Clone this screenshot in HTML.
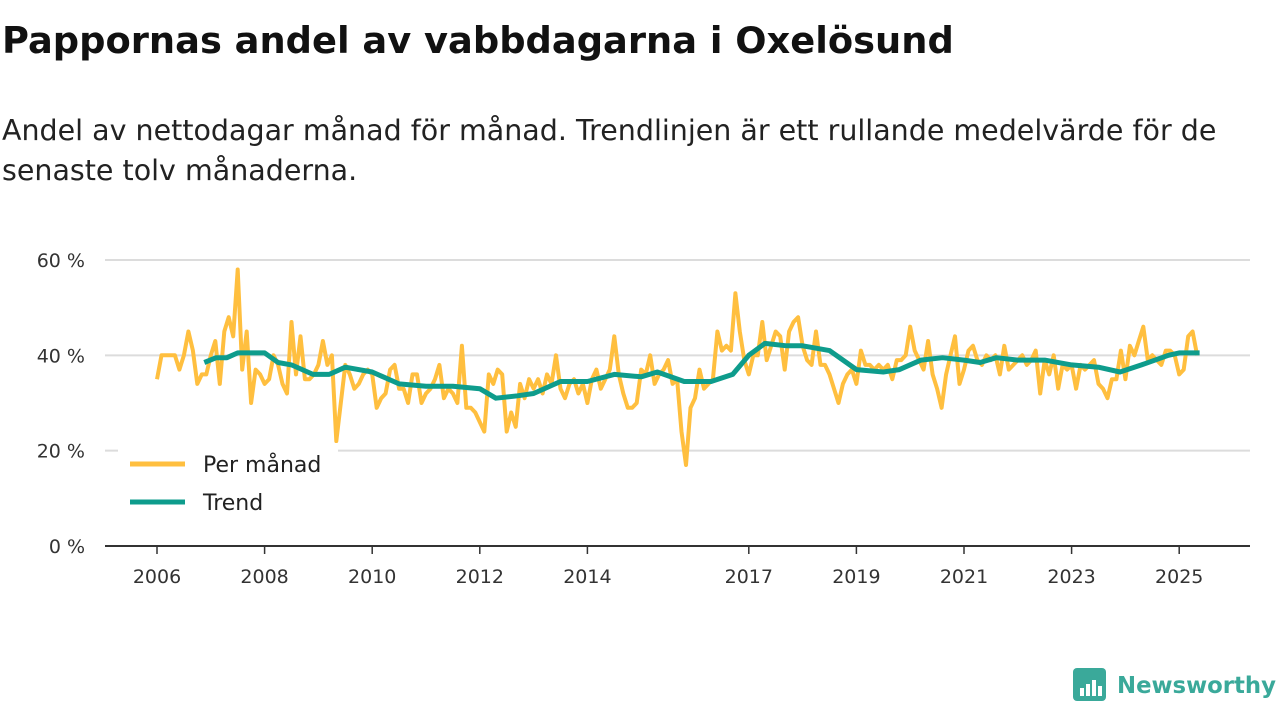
<!DOCTYPE html>
<html><head><meta charset="utf-8"><style>
body{margin:0;background:#fff;font-family:"DejaVu Sans","Liberation Sans",sans-serif;color:#111}
#wrap{position:relative;width:1280px;height:720px;overflow:hidden}
h1{position:absolute;left:2px;top:19px;margin:0;font-size:36.8px;font-weight:bold;white-space:nowrap}
.sub{position:absolute;left:2px;top:111px;margin:0;font-size:28.5px;line-height:40px;color:#222;white-space:nowrap}
</style></head><body><div id="wrap">
<h1>Pappornas andel av vabbdagarna i Oxelösund</h1>
<p class="sub">Andel av nettodagar månad för månad. Trendlinjen är ett rullande medelvärde för de<br>senaste tolv månaderna.</p>
<svg id="chart" width="1280" height="720" style="position:absolute;left:0;top:0;font-family:'DejaVu Sans',sans-serif"></svg>
</div>
<script>
const yTicks=[0,20,40,60];
const xTickYears=[2006,2008,2010,2012,2014,2017,2019,2021,2023,2025];
const monthly=[
35,40,40,40,40,37,40,45,41,34,36,36,
40,43,34,45,48,44,58,37,45,30,37,36,
34,35,40,38,34,32,47,36,44,35,35,36,
38,43,38,40,22,30,38,36,33,34,36,37,
36,29,31,32,37,38,33,33,30,36,36,30,
32,33,35,38,31,33,32,30,42,29,29,28,
26,24,36,34,37,36,24,28,25,34,31,35,
33,35,32,36,34,40,33,31,34,35,32,34,
30,35,37,33,35,37,44,36,32,29,29,30,
37,36,40,34,36,37,39,34,35,24,17,29,
31,37,33,34,35,45,41,42,41,53,45,39,
36,40,40,47,39,42,45,44,37,45,47,48,
42,39,38,45,38,38,36,33,30,34,36,37,
34,41,38,38,37,38,37,38,35,39,39,40,
46,41,39,37,43,36,33,29,36,40,44,34,
37,41,42,39,38,40,39,40,36,42,37,38,
39,40,38,39,41,32,39,36,40,33,38,37,
38,33,38,37,38,39,34,33,31,35,35,41,
35,42,40,43,46,39,40,39,38,41,41,40,
36,37,44,45,40];
const trendDates=[2006.88,2007.1,2007.3,2007.5,2008.0,2008.25,2008.5,2008.9,2009.2,2009.5,2010.0,2010.5,2011.0,2011.5,2012.0,2012.3,2012.7,2013.0,2013.5,2014.0,2014.5,2015.0,2015.3,2015.8,2016.3,2016.7,2017.0,2017.3,2017.7,2018.0,2018.5,2019.0,2019.5,2019.8,2020.2,2020.6,2021.0,2021.3,2021.6,2022.0,2022.5,2023.0,2023.5,2023.9,2024.3,2024.8,2025.0,2025.38];
const trendValues=[38.5,39.5,39.5,40.5,40.5,38.5,38,36,36,37.5,36.5,34,33.5,33.5,33,31,31.5,32,34.5,34.5,36,35.5,36.5,34.5,34.5,36,40,42.5,42,42,41,37,36.5,37,39,39.5,39,38.5,39.5,39,39,38,37.5,36.5,38,40,40.5,40.5];
const NS="http://www.w3.org/2000/svg",svg=document.getElementById('chart');
const x0=157,pxPerYear=53.8,y0=546,pxPerPct=4.767;
function xs(yr){return x0+(yr-2006)*pxPerYear}
function ys(v){return y0-v*pxPerPct}
function mk(t,a){const e=document.createElementNS(NS,t);for(const k in a)e.setAttribute(k,a[k]);svg.appendChild(e);return e}
yTicks.forEach(v=>{
 if(v>0){const g=mk('line',{x1:105,x2:1250,y1:ys(v),y2:ys(v),stroke:'#dcdcdc','stroke-width':2});
 
 }
 const t=mk('text',{x:85,y:ys(v)+7,'text-anchor':'end','font-size':19,fill:'#333'});t.textContent=v+' %';
 
 
});
const ax=mk('line',{x1:105,x2:1250,y1:y0,y2:y0,stroke:'#333','stroke-width':2});


xTickYears.forEach(yr=>{
 const tk=mk('line',{x1:xs(yr),x2:xs(yr),y1:y0,y2:y0+8,stroke:'#333','stroke-width':1.5});
 
 
 const t=mk('text',{x:xs(yr),y:583,'text-anchor':'middle','font-size':19,fill:'#333'});t.textContent=yr;
 
 
});
const mp=monthly.map((v,i)=>xs(2006+i/12).toFixed(1)+','+ys(v).toFixed(1)).join(' ');
const l1=mk('polyline',{points:mp,fill:'none',stroke:'#ffbf3f','stroke-width':4,'stroke-linejoin':'round'});


const tp=trendValues.map((v,i)=>xs(trendDates[i]).toFixed(1)+','+ys(v).toFixed(1)).join(' ');
const l2=mk('polyline',{points:tp,fill:'none',stroke:'#0e9c8c','stroke-width':5,'stroke-linejoin':'round'});


const lb=mk('rect',{x:118,y:443,width:220,height:80,fill:'#fff'});


[['Per månad','#ffbf3f',464],['Trend','#0e9c8c',502]].forEach(([n,c,y])=>{
 const l=mk('line',{x1:130,x2:185,y1:y,y2:y,stroke:c,'stroke-width':5});
 
 
 const t=mk('text',{x:203,y:y+8,'font-size':22,fill:'#222'});t.textContent=n;
 
 
});
const logo=mk('rect',{x:1073,y:668,width:33,height:33,rx:4,fill:'#3aa99a'});


[[1080,688,4,8],[1086,684,4,12],[1092,680,4,16],[1098,686,4,10]].forEach(b=>{const r=mk('rect',{x:b[0],y:b[1],width:b[2],height:b[3],fill:'#fff'});
 
 });
const lt=mk('text',{x:1117,y:693,'font-size':23,'font-weight':'bold',fill:'#3aa99a',textLength:159,lengthAdjust:'spacingAndGlyphs'});lt.textContent='Newsworthy';


</script></body></html>
